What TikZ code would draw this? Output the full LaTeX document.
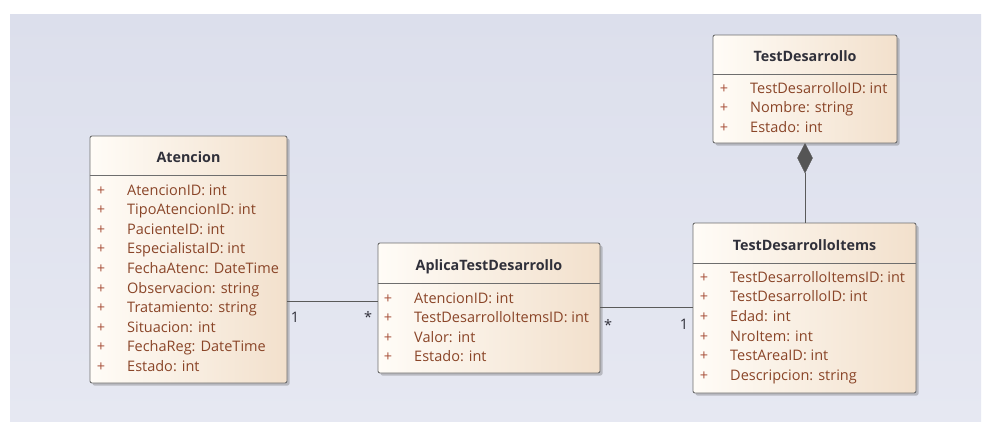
\documentclass[tikz,border=0pt]{standalone}
\usepackage{fontspec}
\setmainfont{Open Sans}
\usetikzlibrary{shadows,calc}
\definecolor{bgtop}{HTML}{DCDFEC}
\definecolor{bgbot}{HTML}{E6E8F2}
\definecolor{boxl}{HTML}{FFFCF7}
\definecolor{boxr}{HTML}{F2E0CC}
\definecolor{edge}{HTML}{6E6E6E}
\definecolor{attrc}{HTML}{8A4528}
\definecolor{plusc}{HTML}{A8503A}
\definecolor{titlec}{HTML}{30303A}
\definecolor{linec}{HTML}{5A5A5A}
\tikzset{
  classbox/.style={draw=edge, line width=0.9pt, rounded corners=2pt,
    left color=boxl, right color=boxr, inner sep=0pt,
    drop shadow={shadow xshift=2.5pt, shadow yshift=-2.5pt, opacity=0.35, fill=black!60}},
  sep/.style={draw=edge, line width=0.9pt},
  ctitle/.style={font=\fontsize{14.3}{16}\selectfont\bfseries, text=titlec, inner sep=0pt, anchor=base},
  attr/.style={font=\fontsize{14.5}{16}\selectfont, text=attrc, anchor=base west, inner sep=0pt},
  plus/.style={font=\fontsize{14.5}{16}\selectfont, text=plusc, inner sep=0pt, anchor=base},
  conn/.style={draw=linec, line width=0.8pt},
  mult/.style={font=\fontsize{14.5}{16}\selectfont, text=titlec, inner sep=0pt, anchor=base},
}
\begin{document}
\begin{tikzpicture}[x=1pt,y=-1pt]
\useasboundingbox (0,0) rectangle (983,421);
\fill[white] (0,0) rectangle (983,421);
\shade[top color=bgtop, bottom color=bgbot] (10,14) rectangle (981,421);

% Atencion
\node[classbox, minimum width=197pt, minimum height=247pt] (atencion) at (188.5,259.5) {};
\node[ctitle] (atencionT) at (188.5,162) {Atencion};
\draw[sep] (atencion.west |- 0,175) -- (atencion.east |- 0,175);
\foreach \t [count=\i from 0] in {AtencionID: int, TipoAtencionID: int, PacienteID: int,
  EspecialistaID: int, FechaAtenc: DateTime, Observacion: string, Tratamiento: string,
  Situacion: int, FechaReg: DateTime, Estado: int}{
  \node[plus] (atencionP\i) at (101,195+19.6*\i) {+};
  \node[attr] (atencionA\i) at (127,195+19.6*\i) {\t};
}

% AplicaTestDesarrollo
\node[classbox, minimum width=222pt, minimum height=130pt] (aplica) at (489,308) {};
\node[ctitle] (aplicaT) at (489,270) {AplicaTestDesarrollo};
\draw[sep] (aplica.west |- 0,283) -- (aplica.east |- 0,283);
\foreach \t [count=\i from 0] in {AtencionID: int, TestDesarrolloItemsID: int, Valor: int, Estado: int}{
  \node[plus] (aplicaP\i) at (388,303+19.5*\i) {+};
  \node[attr] (aplicaA\i) at (414,303+19.5*\i) {\t};
}

% TestDesarrollo
\node[classbox, minimum width=184pt, minimum height=108pt] (test) at (805,89) {};
\node[ctitle] (testT) at (805,61) {TestDesarrollo};
\draw[sep] (test.west |- 0,74) -- (test.east |- 0,74);
\foreach \t [count=\i from 0] in {TestDesarrolloID: int, Nombre: string, Estado: int}{
  \node[plus] (testP\i) at (724,93+19.5*\i) {+};
  \node[attr] (testA\i) at (750,93+19.5*\i) {\t};
}

% TestDesarrolloItems
\node[classbox, minimum width=223pt, minimum height=170pt] (items) at (804.5,308) {};
\node[ctitle] (itemsT) at (804.5,250) {TestDesarrolloItems};
\draw[sep] (items.west |- 0,263) -- (items.east |- 0,263);
\foreach \t [count=\i from 0] in {TestDesarrolloItemsID: int, TestDesarrolloID: int, Edad: int,
  NroItem: int, TestAreaID: int, Descripcion: string}{
  \node[plus] (itemsP\i) at (704,282+19.7*\i) {+};
  \node[attr] (itemsA\i) at (730,282+19.7*\i) {\t};
}

% Associations
\coordinate (r1) at (0,301);
\coordinate (r2) at (0,307);
\draw[conn] (atencion.east |- r1) -- (aplica.west |- r1);
\node[mult] (m1a) at (295,322) {1};
\node[mult] (m1b) at (368,322) {*};
\draw[conn] (aplica.east |- r2) -- (items.west |- r2);
\node[mult] (m2a) at (608,330) {*};
\node[mult] (m2b) at (684,329) {1};

% Composition
\coordinate (dtop) at (805,143.5);
\coordinate (dbot) at (805,173);
\draw[conn] (items.north -| dtop) -- (dbot);
\fill[linec!95!black, draw=linec] (dtop) -- (812.5,158) -- (dbot) -- (797.5,158) -- cycle;
\end{tikzpicture}
\end{document}
